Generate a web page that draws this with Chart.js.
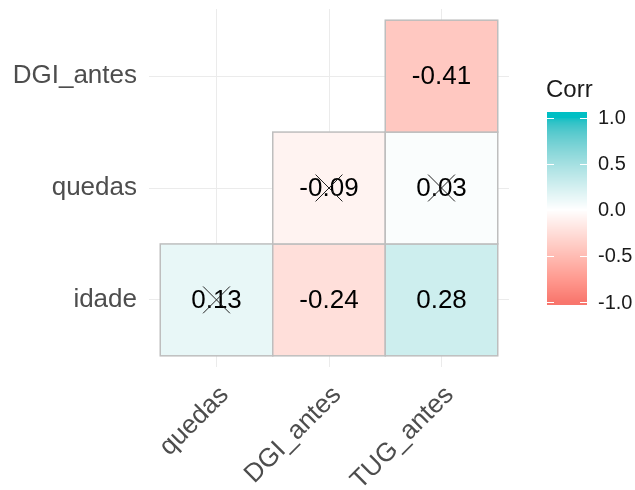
<!DOCTYPE html>
<html>
<head>
<meta charset="utf-8">
<script src="https://cdn.jsdelivr.net/npm/chart.js@4/dist/chart.umd.min.js"></script>
<style>
  html, body { margin: 0; padding: 0; background: #fff; }
  #wrap { width: 635px; height: 490px; }
</style>
</head>
<body>
<div id="wrap"><canvas id="corr" width="635" height="490"></canvas></div>
<script>
// Variables shown on each axis (bottom-to-top for y)
const xLabels = ['quedas', 'DGI_antes', 'TUG_antes'];
const yLabels = ['idade', 'quedas', 'DGI_antes'];

// Lower-triangle cells: column, row, correlation, and whether it is non-significant
const cellCol = ['quedas', 'DGI_antes', 'TUG_antes', 'DGI_antes', 'TUG_antes', 'TUG_antes'];
const cellRow = ['idade', 'idade', 'idade', 'quedas', 'quedas', 'DGI_antes'];
const corrValues = [0.13, -0.24, 0.28, -0.09, 0.03, -0.41];
const insignificant = [true, false, false, true, true, false];

// Colour bar
const legendTitle = 'Corr';
const legendTicks = [1.0, 0.5, 0.0, -0.5, -1.0];

const FONT = '"Liberation Sans", Arial, sans-serif';
const LOW = '#F8766D', MID = '#FFFFFF', HIGH = '#00BFC4';

// --- colour helpers: diverging gradient interpolated in Lab space ---
function hexToRgb(h) {
    return [1, 3, 5].map(i => parseInt(h.substr(i, 2), 16));
}
function toLin(c) { c /= 255; return c <= 0.04045 ? c / 12.92 : Math.pow((c + 0.055) / 1.055, 2.4); }
function fromLin(c) {
    c = c <= 0.0031308 ? 12.92 * c : 1.055 * Math.pow(c, 1 / 2.4) - 0.055;
    return Math.max(0, Math.min(255, Math.round(c * 255)));
}
const WX = 0.95047, WY = 1.0, WZ = 1.08883;
function rgbToLab(rgb) {
    const [r, g, b] = rgb.map(toLin);
    const X = (0.4124 * r + 0.3576 * g + 0.1805 * b) / WX;
    const Y = (0.2126 * r + 0.7152 * g + 0.0722 * b) / WY;
    const Z = (0.0193 * r + 0.1192 * g + 0.9505 * b) / WZ;
    const f = t => t > 0.008856 ? Math.cbrt(t) : 7.787 * t + 16 / 116;
    return [116 * f(Y) - 16, 500 * (f(X) - f(Y)), 200 * (f(Y) - f(Z))];
}
function labToRgb(lab) {
    const fy = (lab[0] + 16) / 116, fx = fy + lab[1] / 500, fz = fy - lab[2] / 200;
    const inv = t => t * t * t > 0.008856 ? t * t * t : (t - 16 / 116) / 7.787;
    const X = inv(fx) * WX, Y = inv(fy) * WY, Z = inv(fz) * WZ;
    const r = 3.2406 * X - 1.5372 * Y - 0.4986 * Z;
    const g = -0.9689 * X + 1.8758 * Y + 0.0415 * Z;
    const b = 0.0557 * X - 0.2040 * Y + 1.0570 * Z;
    return [fromLin(r), fromLin(g), fromLin(b)];
}
const labLow = rgbToLab(hexToRgb(LOW)), labMid = rgbToLab(hexToRgb(MID)), labHigh = rgbToLab(hexToRgb(HIGH));
function corrColor(v) {
    const end = v < 0 ? labLow : labHigh;
    const t = Math.min(1, Math.abs(v));
    const lab = labMid.map((m, i) => m + (end[i] - m) * t);
    const [r, g, b] = labToRgb(lab);
    return `rgb(${r},${g},${b})`;
}

const cellPoints = corrValues.map((v, i) => ({
    x: xLabels.indexOf(cellCol[i]) + 1,
    y: yLabels.indexOf(cellRow[i]) + 1,
    v: v
}));
const crossPoints = cellPoints.filter((p, i) => insignificant[i]);

// Tiles + value labels, drawn under the cross marks
const tilePlugin = {
    id: 'tiles',
    beforeDatasetsDraw(chart) {
        const { ctx, scales: { x, y } } = chart;
        ctx.save();
        cellPoints.forEach(p => {
            const x0 = x.getPixelForValue(p.x - 0.5), x1 = x.getPixelForValue(p.x + 0.5);
            const y0 = y.getPixelForValue(p.y + 0.5), y1 = y.getPixelForValue(p.y - 0.5);
            ctx.fillStyle = corrColor(p.v);
            ctx.fillRect(x0, y0, x1 - x0, y1 - y0);
            ctx.strokeStyle = '#BEBEBE';
            ctx.lineWidth = 1.5;
            ctx.strokeRect(x0, y0, x1 - x0, y1 - y0);
        });
        ctx.fillStyle = '#000';
        ctx.font = '26px ' + FONT;
        ctx.textAlign = 'center';
        ctx.textBaseline = 'middle';
        cellPoints.forEach(p => {
            ctx.fillText(p.v.toFixed(2), x.getPixelForValue(p.x), y.getPixelForValue(p.y) + 1);
        });
        ctx.restore();
    }
};

// Colour bar legend on the right
const colorbarPlugin = {
    id: 'colorbar',
    afterDraw(chart) {
        const ctx = chart.ctx;
        const bx = 547, bw = 40, barTop = 112, barBottom = 305;
        const yOf = v => 117.5 + (1 - v) / 2 * (302 - 117.5);
        ctx.save();
        for (let py = barTop; py < barBottom; py++) {
            const v = Math.max(-1, Math.min(1, 1 - (py + 0.5 - 117.5) / (302 - 117.5) * 2));
            ctx.fillStyle = corrColor(v);
            ctx.fillRect(bx, py, bw, 1);
        }
        ctx.strokeStyle = '#FFFFFF';
        ctx.lineWidth = 1;
        ctx.fillStyle = '#1A1A1A';
        ctx.font = '20px ' + FONT;
        ctx.textAlign = 'left';
        ctx.textBaseline = 'middle';
        legendTicks.forEach(t => {
            const ty = Math.round(yOf(t)) + 0.5;
            ctx.beginPath();
            ctx.moveTo(bx, ty); ctx.lineTo(bx + 7, ty);
            ctx.moveTo(bx + bw - 7, ty); ctx.lineTo(bx + bw, ty);
            ctx.stroke();
            ctx.fillText(t.toFixed(1), 598, yOf(t) + 1);
        });
        ctx.font = '24px ' + FONT;
        ctx.fillText(legendTitle, 546, 90);
        ctx.restore();
    }
};

function categoryTicks(scale, labels) {
    scale.ticks = labels.map((l, i) => ({ value: i + 1 }));
}

new Chart(document.getElementById('corr'), {
    type: 'scatter',
    data: {
        datasets: [{
            label: 'Corr',
            data: cellPoints,
            pointRadius: 0,
            pointHoverRadius: 0
        }, {
            label: 'insignificant',
            data: crossPoints,
            pointStyle: 'crossRot',
            pointRadius: 19,
            pointHoverRadius: 19,
            borderColor: '#222',
            borderWidth: 1,
            backgroundColor: 'transparent'
        }]
    },
    options: {
        responsive: false,
        animation: false,
        devicePixelRatio: 1,
        layout: { autoPadding: false, padding: { top: 9, right: 126, left: 0, bottom: 0 } },
        plugins: {
            legend: { display: false },
            tooltip: { enabled: false }
        },
        scales: {
            x: {
                type: 'linear',
                min: 0.4,
                max: 3.6,
                afterBuildTicks: s => categoryTicks(s, xLabels),
                afterFit: s => {
                    s.height = 123;
                    s.paddingLeft = 0; s.paddingRight = 0;
                },
                grid: { color: '#EBEBEB', lineWidth: 1, drawTicks: false },
                border: { display: false },
                ticks: {
                    autoSkip: false,
                    minRotation: 45,
                    maxRotation: 45,
                    padding: 13,
                    labelOffset: 8,
                    color: '#4D4D4D',
                    font: { family: FONT, size: 26 },
                    callback: v => xLabels[v - 1]
                }
            },
            y: {
                type: 'linear',
                min: 0.4,
                max: 3.6,
                afterBuildTicks: s => categoryTicks(s, yLabels),
                afterFit: s => {
                    s.width = 149;
                    s.paddingTop = 0; s.paddingBottom = 0;
                },
                grid: { color: '#EBEBEB', lineWidth: 1, drawTicks: false },
                border: { display: false },
                ticks: {
                    autoSkip: false,
                    padding: 12,
                    color: '#4D4D4D',
                    font: { family: FONT, size: 26 },
                    callback: v => yLabels[v - 1]
                }
            }
        }
    },
    plugins: [tilePlugin, colorbarPlugin]
});
</script>
</body>
</html>
